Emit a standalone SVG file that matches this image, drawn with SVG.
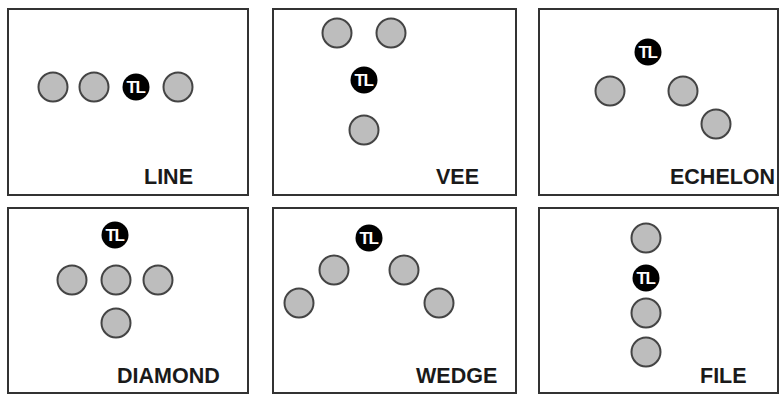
<svg xmlns="http://www.w3.org/2000/svg" width="781" height="396" viewBox="0 0 781 396">
<style>
.panel{fill:#fff;stroke:#333;stroke-width:2}
.m{fill:#bdbdbd;stroke:#444;stroke-width:2}
.tl{fill:#000}
.tlt{fill:#fff;font-family:"Liberation Sans",Arial,sans-serif;font-weight:bold;font-size:17px;text-anchor:middle;letter-spacing:-1.5px}
.lbl{fill:#1a1a1a;font-family:"Liberation Sans",Arial,sans-serif;font-weight:bold;font-size:21.5px}
</style>
<defs>
<circle id="mem" r="14.5" class="m"/>
<g id="lead"><circle r="13.5" class="tl"/><text x="-0.5" y="6" class="tlt">TL</text></g>
</defs>
<rect width="781" height="396" fill="#fff"/>
<g id="line">
<rect class="panel" x="8" y="9" width="240" height="186"/>
<use href="#mem" x="53" y="87"/><use href="#mem" x="94" y="87"/><use href="#lead" x="136" y="87"/><use href="#mem" x="178" y="87"/>
<text class="lbl" x="144" y="184">LINE</text>
</g>
<g id="vee">
<rect class="panel" x="273" y="9" width="243" height="186"/>
<use href="#mem" x="337" y="33"/><use href="#mem" x="391" y="33"/><use href="#lead" x="364" y="80"/><use href="#mem" x="364" y="130"/>
<text class="lbl" x="436" y="184">VEE</text>
</g>
<g id="echelon">
<rect class="panel" x="539" y="9" width="239" height="186"/>
<use href="#lead" x="648" y="52"/><use href="#mem" x="610" y="91"/><use href="#mem" x="683" y="91"/><use href="#mem" x="716" y="124"/>
<text class="lbl" x="670" y="184">ECHELON</text>
</g>
<g id="diamond">
<rect class="panel" x="8" y="208" width="240" height="185"/>
<use href="#lead" x="115" y="235"/><use href="#mem" x="72" y="280"/><use href="#mem" x="116" y="280"/><use href="#mem" x="158" y="280"/><use href="#mem" x="116" y="323"/>
<text class="lbl" x="117" y="383">DIAMOND</text>
</g>
<g id="wedge">
<rect class="panel" x="273" y="208" width="243" height="185"/>
<use href="#lead" x="369" y="238"/><use href="#mem" x="334" y="270"/><use href="#mem" x="404" y="270"/><use href="#mem" x="299" y="303"/><use href="#mem" x="439" y="303"/>
<text class="lbl" x="416" y="383">WEDGE</text>
</g>
<g id="file">
<rect class="panel" x="539" y="208" width="239" height="185"/>
<use href="#mem" x="646" y="238"/><use href="#lead" x="646" y="278"/><use href="#mem" x="646" y="313"/><use href="#mem" x="646" y="352"/>
<text class="lbl" x="700" y="383">FILE</text>
</g>
</svg>
